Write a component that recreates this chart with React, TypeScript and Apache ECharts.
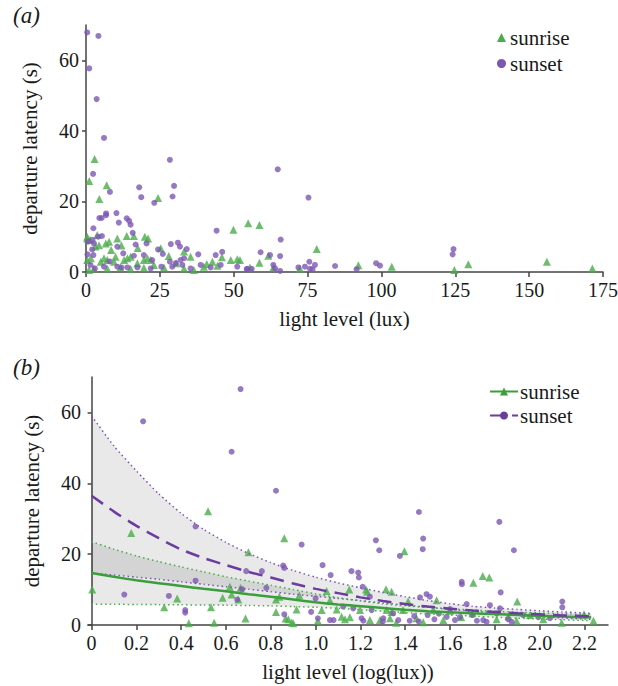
import React, { useEffect, useRef } from "react";
import * as echarts from "echarts";

// ---------- data: panel (a) light level (lux) vs departure latency (s)
const sunriseA: [number, number][] = [
  [0.4, 10], [1.4, 9.1], [3.8, 10.5], [7.8, 8.6], [10.6, 9.5], [13.8, 10.2], [16.2, 10.2], [19.9, 10],
  [21, 9.5], [6.7, 8.1], [4.4, 7.6], [1.6, 3.9], [0.4, 3.4], [6.1, 3.9], [7.2, 3.4], [10, 4.3],
  [12.9, 3.4], [14, 3.9], [15.1, 4.3], [19.6, 3.4], [20.8, 3.9], [21.9, 3.4], [25.3, 6.7], [33.2, 5.8],
  [35.4, 4.3], [26.4, 1.3], [33.2, 1], [39.9, 1.5], [40.9, 2.3], [42.8, 2.9], [49, 3.4], [51.2, 3.6],
  [2.7, 1], [7.2, 1], [11.7, 1.3], [15.1, 0.9], [19.6, 1.2], [5, 2.9], [9.5, 2.9], [17.4, 2.5],
  [23, 2], [2.9, 32], [1.1, 25.8], [7, 24.6], [4.5, 20.7], [24.4, 21], [0.4, 9.5], [49.9, 12],
  [54.9, 13.8], [58.7, 13.3], [78.1, 6.5], [61.7, 4.6], [52.1, 3.4], [58.7, 2.6], [63.4, 1.3], [55.5, 1.3],
  [72.4, 1], [92.2, 1.9], [103.5, 1.5], [124.7, 0.6], [129.4, 2.2], [156, 2.9], [171.4, 1], [3.2, 7.2],
  [8.5, 6.2], [12, 7.5], [17.5, 6.8], [28, 4.5], [30.5, 2.5], [44.5, 1.8], [46, 4.2], [1, 0.6], [36.5, 0.6],
];
const sunsetA: [number, number][] = [
  [0.4, 67.9], [4.2, 66.9], [1.1, 57.7], [3.6, 49], [6.1, 38], [2.4, 27.8], [28.4, 31.8], [18, 24],
  [18.7, 21.2], [29.8, 24.4], [29.3, 21.4], [23.1, 19.6], [8.1, 22.7], [6.8, 16.6], [6.8, 16.1], [4.5, 15.3],
  [5.3, 15.3], [10.3, 16.7], [11.1, 14], [13.8, 15.2], [14.6, 14.5], [15.1, 13.4], [15.8, 11.1], [2.5, 12.4],
  [5.4, 10.2], [2.2, 9.1], [64.9, 29.1], [75.3, 21.1], [44.2, 11.7], [65.9, 9.2], [59.1, 5.6], [62.3, 4.8],
  [65.7, 4.5], [2.7, 8.1], [0.7, 8.6], [4.1, 10], [16.8, 7.8], [20.5, 8.1], [28.7, 7.9], [31.1, 8.3],
  [31.8, 7.2], [34.1, 6.5], [24.4, 6.4], [26, 5.1], [38, 5], [43.9, 4.8], [46.1, 5.7], [12.6, 5.3],
  [10.6, 7.2], [2.1, 6.4], [16.2, 4.6], [19.6, 4.8], [22.4, 3.4], [28.4, 2.9], [30.4, 2.5], [32, 3.4],
  [33.2, 3.9], [32.6, 2], [29.2, 1.5], [35.4, 1], [38.8, 2], [42.2, 1.3], [45.6, 2], [51.2, 1.5],
  [54.6, 0.9], [25.5, 1.5], [21.9, 1], [17.4, 1.3], [10.6, 1.5], [12, 1.3], [6.1, 1.5], [2.5, 4.8],
  [14, 1.3], [63.4, 2], [64, 1], [54.4, 0.8], [56.1, 0.9], [65.7, 0.3], [71.9, 1.3], [74.1, 1.5],
  [75.6, 2.9], [75.8, 0.9], [77.5, 2], [76.7, 0.8], [84.3, 1.7], [91.6, 0.8], [98.2, 2.5], [99.5, 1.8],
  [124.4, 6.5], [124.1, 5], [1.5, 2], [3, 1], [8, 3], [0.5, 5],
];

// ---------- data: panel (b) light level (log(lux)) vs departure latency (s)
const sunriseB: [number, number][] = [
  [0.003, 10], [0.177, 26], [0.52, 32.1], [0.86, 24.5], [0.7, 20.5], [0.324, 5], [0.382, 7.5], [0.434, 0.5],
  [0.533, 5], [0.547, 0.6], [0.585, 7.7], [0.617, 10.8], [0.625, 8.6], [0.655, 7.2], [0.665, 10.5], [0.687, 1.8],
  [0.823, 3.7], [0.838, 8], [0.823, 7.2], [0.866, 1.8], [0.878, 1.6], [0.893, 0.7], [0.9, 0.5], [0.915, 4.4],
  [0.927, 8.4], [1.396, 20.8], [1.049, 9.6], [1.15, 10], [1.225, 10], [1.23, 9.4], [1.314, 10.1], [1.339, 9.4],
  [1.027, 4.2], [1.064, 7], [1.094, 4.4], [1.116, 2.3], [1.131, 1.6], [1.153, 2.2], [1.198, 4.2], [1.242, 1.4],
  [1.287, 1.4], [1.332, 1.9], [1.317, 4.2], [1.339, 3.7], [1.39, 4.2], [1.413, 6.6], [1.45, 1.9], [1.54, 7],
  [1.525, 4.2], [1.6, 4], [1.7, 3.3], [1.704, 11.9], [1.746, 13.8], [1.775, 13.4], [1.9, 6.6], [2.198, 3],
  [2.24, 1.2], [1.57, 1.4], [1.808, 1.6], [1.897, 1.2], [2.016, 1.6], [2.098, 0.6], [1.957, 2.8], [1.65, 2.2],
  [1.48, 0.8], [1.36, 0.6], [1.01, 1.2], [1.86, 2.5],
];
const sunsetB: [number, number][] = [
  [0.23, 57.5], [0.665, 66.6], [0.625, 48.9], [0.823, 37.9], [0.9375, 22.7], [0.464, 27.8], [0.855, 16.8], [0.86, 16.1],
  [0.69, 15.2], [0.76, 15.2], [0.146, 8.6], [0.345, 8.2], [0.418, 4.2], [0.418, 3.5], [0.464, 12.5], [0.672, 10.1],
  [0.78, 10.5], [0.65, 7.2], [0.86, 3], [0.98, 3.7], [1.0, 7.5], [1.01, 1.9], [1.269, 23.9], [1.284, 21.1],
  [1.376, 19.5], [1.48, 24.4], [1.478, 21.4], [1.031, 16.9], [1.067, 14.1], [1.16, 15.2], [1.19, 14.8], [1.193, 13.4],
  [1.21, 10.8], [1.242, 8], [1.652, 12.2], [1.653, 11.5], [1.495, 8.7], [1.51, 8], [1.466, 7.8], [1.064, 1.4],
  [1.08, 1.4], [1.123, 5.2], [1.168, 4.7], [1.205, 1.9], [1.213, 1.2], [1.25, 4.2], [1.302, 1.9], [1.346, 3.3],
  [1.369, 1.4], [1.42, 1.2], [1.44, 2.5], [1.46, 1], [1.5, 2.8], [1.53, 1.6], [1.55, 3.2], [1.885, 21.1],
  [1.826, 9.2], [2.101, 6.6], [2.101, 5], [1.778, 5.6], [1.674, 5.9], [1.748, 1.4], [1.763, 0.9], [1.86, 1.6],
  [1.875, 0.9], [1.927, 2.8], [1.994, 2.2], [2.046, 1.9], [1.585, 2.3], [1.622, 1.4], [1.644, 2.2], [1.7, 2.8],
  [1.823, 4.7], [1.808, 3.3], [1.6, 4.5], [1.72, 1.2], [1.3, 1], [1.82, 29.1], [1.461, 31.9],
];

// fitted curves and 95% bands
const fitX = [0, 0.1, 0.2, 0.3, 0.4, 0.5, 0.6, 0.7, 0.8, 0.9, 1.0, 1.1, 1.2, 1.3, 1.4, 1.5, 1.6, 1.7, 1.8, 1.9, 2.0, 2.1, 2.2, 2.23];
const sunsetFit = [36.5, 32, 28, 24.5, 21.3, 18.9, 16.9, 15.0, 13.4, 11.7, 10.2, 9.0, 7.8, 6.8, 5.9, 5.2, 4.6, 4.1, 3.7, 3.3, 3.0, 2.7, 2.5, 2.4];
const sunsetUpper = [59, 50.5, 43.5, 37, 31.5, 27, 23.3, 20.2, 17.6, 15.4, 13.5, 11.9, 10.5, 9.2, 8.0, 6.9, 6.0, 5.3, 4.8, 4.4, 4.0, 3.7, 3.4, 3.3];
const sunsetLower = [14.6, 14.1, 13.5, 12.9, 12.2, 11.5, 10.8, 10.1, 9.4, 8.7, 8.1, 7.5, 6.9, 6.2, 5.6, 5.0, 4.4, 3.9, 3.4, 2.9, 2.4, 2.0, 1.7, 1.6];
const sunriseFit = [14.7, 13.6, 12.6, 11.8, 11.0, 10.2, 9.5, 8.7, 8.0, 7.2, 6.4, 5.8, 5.3, 4.8, 4.3, 3.9, 3.6, 3.3, 3.1, 2.8, 2.6, 2.4, 2.2, 2.2];
const sunriseUpper = [23.5, 21.4, 19.5, 17.9, 16.4, 15.0, 13.6, 12.4, 11.2, 10.0, 8.8, 7.7, 6.8, 6.0, 5.4, 5.0, 4.6, 4.2, 3.9, 3.6, 3.4, 3.2, 3.0, 3.0];
const sunriseLower = [5.9, 5.85, 5.8, 5.75, 5.7, 5.65, 5.6, 5.5, 5.4, 5.2, 5.0, 4.7, 4.3, 3.9, 3.5, 3.1, 2.8, 2.5, 2.2, 1.9, 1.7, 1.5, 1.3, 1.3];

// tick values and texts
const yTicks = [0, 20, 40, 60];
const xTicksA = [0, 25, 50, 75, 100, 125, 150, 175];
const xTicksB = [0, 0.2, 0.4, 0.6, 0.8, 1.0, 1.2, 1.4, 1.6, 1.8, 2.0, 2.2];
const xNames = ["light level (lux)", "light level (log(lux))"];
const yName = "departure latency (s)";
const panelLabels = ["(a)", "(b)"];
const seriesNames = ["sunrise", "sunset"];

const FONT = "Liberation Serif";
const GREEN = "#4aad4a";
const PURPLE = "#7d56b3";
const GREEN_LINE = "#3a9e3a";
const PURPLE_LINE = "#6a3d9e";
const AXIS = "#444";
const TXT = "#1a1a1a";
const BAND = "rgba(0,0,0,0.085)";

const pairs = (xs: number[], ys: number[]) => xs.map((x, i) => [x, ys[i]]);

const txt = (text: string, x: number, y: number, size: number, align: string, vAlign: string, extra: any = {}) => ({
  type: "text", x, y, silent: true, z: 100,
  style: {
    text, fontFamily: FONT, fontSize: size, fill: TXT,
    align, verticalAlign: vAlign, textAlign: align, textVerticalAlign: vAlign, ...extra,
  },
});

export default function App() {
  const ref = useRef<HTMLDivElement>(null);
  useEffect(() => {
    if (!ref.current) return;
    const chart = echarts.init(ref.current, undefined, { renderer: "svg" });

    const axisLine = { show: true, lineStyle: { color: AXIS, width: 1.5 } };

    const band = (lower: number[], upper: number[]) => ({
      type: "custom", xAxisIndex: 1, yAxisIndex: 1, silent: true, z: 1, clip: true,
      data: [[fitX[0], lower[0]]],
      renderItem: (_p: any, api: any) => {
        const top = fitX.map((x, i) => api.coord([x, upper[i]]));
        const bot = fitX.map((x, i) => api.coord([x, lower[i]])).reverse();
        return { type: "polygon", shape: { points: top.concat(bot) }, style: { fill: BAND } };
      },
    });
    const dotted = (ys: number[], color: string) => ({
      type: "line", xAxisIndex: 1, yAxisIndex: 1, smooth: 0.2, data: pairs(fitX, ys), symbol: "none",
      lineStyle: { color, width: 1.5, type: [1.5, 3] }, silent: true, z: 3,
    });

    const axesInfo = [
      { grid: 0, xmin: 0, xmax: 175, xticks: xTicksA, fmt: (v: number) => String(v) },
      { grid: 1, xmin: -0.016, xmax: 2.305, xticks: xTicksB, fmt: (v: number) => (Math.abs(v) < 1e-9 ? "0" : v.toFixed(1)) },
    ];

    chart.setOption({
      animation: false,
      legend: [
        {
          orient: "vertical", left: 492, top: 22, itemWidth: 9, itemHeight: 9, itemGap: 5, selectedMode: false,
          textStyle: { fontFamily: FONT, fontSize: 21, color: TXT }, formatter: () => " ",
          data: [
            { name: "sunrise", icon: "triangle", itemStyle: { color: GREEN } },
            { name: "sunset", icon: "circle", itemStyle: { color: PURPLE } },
          ],
        },
        {
          orient: "vertical", left: 484, top: 376, itemWidth: 28, itemHeight: 10, itemGap: 3, selectedMode: false,
          textStyle: { fontFamily: FONT, fontSize: 21, color: TXT }, formatter: () => " ",
          data: ["sunrise", "sunset"],
        },
      ],
      grid: [
        { left: 86, top: 25, width: 517, height: 247 },
        { left: 88, top: 377, width: 520, height: 248 },
      ],
      xAxis: axesInfo.map((a) => ({
        type: "value", gridIndex: a.grid, min: a.xmin, max: a.xmax,
        ...(a.grid === 0 ? { interval: 25 } : {}),
        axisLine, splitLine: { show: false },
        axisTick: {
          show: true, length: 5, lineStyle: { color: AXIS, width: 1.5 },
          ...(a.grid === 1 ? { customValues: xTicksB } : {}),
        },
        axisLabel: { show: false },
      })),
      yAxis: axesInfo.map((a) => ({
        type: "value", gridIndex: a.grid, min: 0, max: 70,
        axisLine, splitLine: { show: false },
        axisTick: { show: true, length: 4, customValues: yTicks, lineStyle: { color: AXIS, width: 1.5 } },
        axisLabel: { show: false },
      })),
      series: [
        {
          name: "sunrise", type: "line", xAxisIndex: 1, yAxisIndex: 1, smooth: 0.2, data: pairs(fitX, sunriseFit),
          symbol: "triangle", symbolSize: 8, showSymbol: false, itemStyle: { color: GREEN_LINE },
          lineStyle: { color: GREEN_LINE, width: 2.5 }, z: 4,
        },
        {
          name: "sunset", type: "line", xAxisIndex: 1, yAxisIndex: 1, smooth: 0.2, data: pairs(fitX, sunsetFit),
          symbol: "circle", symbolSize: 6, showSymbol: false, itemStyle: { color: PURPLE_LINE },
          lineStyle: { color: PURPLE_LINE, width: 2.5, type: [14, 8] }, z: 4,
        },
        band(sunsetLower, sunsetUpper),
        band(sunriseLower, sunriseUpper),
        dotted(sunsetUpper, PURPLE),
        dotted(sunsetLower, PURPLE),
        dotted(sunriseUpper, GREEN),
        dotted(sunriseLower, GREEN),
        {
          name: "sunrise", type: "scatter", xAxisIndex: 0, yAxisIndex: 0, data: sunriseA,
          symbol: "triangle", symbolSize: 8, itemStyle: { color: GREEN }, z: 2,
        },
        {
          name: "sunset", type: "scatter", xAxisIndex: 0, yAxisIndex: 0, data: sunsetA,
          symbol: "circle", symbolSize: 6, itemStyle: { color: PURPLE }, z: 2,
        },
        {
          name: "sunrise", type: "scatter", xAxisIndex: 1, yAxisIndex: 1, data: sunriseB,
          symbol: "triangle", symbolSize: 8, itemStyle: { color: GREEN }, z: 2,
        },
        {
          name: "sunset", type: "scatter", xAxisIndex: 1, yAxisIndex: 1, data: sunsetB,
          symbol: "circle", symbolSize: 6, itemStyle: { color: PURPLE }, z: 2,
        },
      ],
    });

    // texts drawn as graphic text (serif), positioned through the chart's own scales
    const P = (grid: number, v: number[]) => chart.convertToPixel({ gridIndex: grid } as any, v) as number[];
    const g: any[] = [];
    axesInfo.forEach((a, k) => {
      const origin = P(a.grid, [a.xmin, 0]);
      const end = P(a.grid, [a.xmax, 0]);
      const top = P(a.grid, [a.xmin, 70]);
      a.xticks.forEach((v) => {
        const p = P(a.grid, [v, 0]);
        g.push(txt(a.fmt(v), p[0], p[1] + 8, 20, "center", "top"));
      });
      yTicks.forEach((v) => {
        const p = P(a.grid, [a.xmin, v]);
        g.push(txt(String(v), p[0] - 7, p[1], 20, "right", "middle"));
      });
      g.push(txt(xNames[k], (origin[0] + end[0]) / 2, origin[1] + 47, 21, "center", "middle"));
      g.push({ ...txt(yName, origin[0] - 56, (origin[1] + top[1]) / 2, 21, "center", "middle"), rotation: Math.PI / 2 });
      g.push(txt(panelLabels[k], 13, top[1] - 10, 23, "left", "middle", { fontStyle: "italic" }));
    });
    // legend texts
    g.push(txt(seriesNames[0], 510, 38, 21, "left", "middle"));
    g.push(txt(seriesNames[1], 510, 64, 21, "left", "middle"));
    g.push(txt(seriesNames[0], 520, 392, 21, "left", "middle"));
    g.push(txt(seriesNames[1], 520, 416, 21, "left", "middle"));
    chart.setOption({ graphic: g });

    return () => chart.dispose();
  }, []);

  return (
    <div
      ref={ref}
      style={{ position: "absolute", left: 0, top: 0, width: 618, height: 686, background: "#fff" }}
    />
  );
}
